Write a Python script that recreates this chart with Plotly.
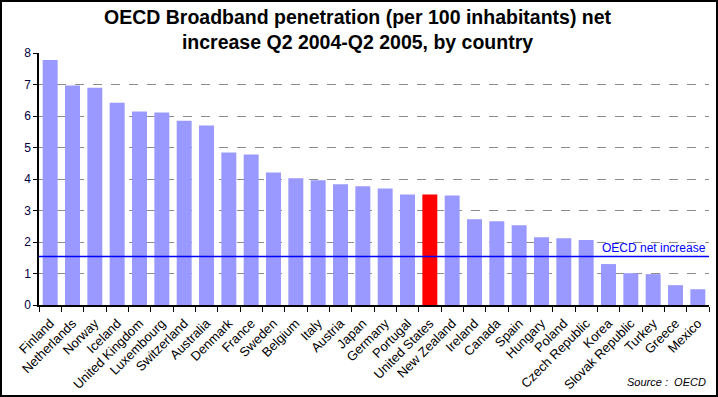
import plotly.graph_objects as go

countries = ["Finland", "Netherlands", "Norway", "Iceland", "United Kingdom", "Luxembourg",
             "Switzerland", "Australia", "Denmark", "France", "Sweden", "Belgium", "Italy",
             "Austria", "Japan", "Germany", "Portugal", "United States", "New Zealand",
             "Ireland", "Canada", "Spain", "Hungary", "Poland", "Czech Republic", "Korea",
             "Slovak Republic", "Turkey", "Greece", "Mexico"]
values = [7.78, 6.97, 6.90, 6.42, 6.14, 6.11, 5.85, 5.70, 4.84, 4.78, 4.21, 4.02, 3.96,
          3.83, 3.77, 3.70, 3.51, 3.51, 3.48, 2.72, 2.66, 2.53, 2.15, 2.12, 2.06, 1.30,
          1.01, 0.98, 0.63, 0.50]
highlight = "United States"
oecd_avg = 1.54
y_ticks = [0, 1, 2, 3, 4, 5, 6, 7, 8]

colors = ["#FF0000" if c == highlight else "#9999FF" for c in countries]

W, H = 718, 397
ml, mr, mt, mb = 39, 9, 53, 92
pw, ph = W - ml - mr, H - mt - mb

fig = go.Figure(go.Bar(x=countries, y=values, marker=dict(color=colors, line=dict(width=0)),
                       showlegend=False))

fig.update_layout(
    width=W, height=H,
    margin=dict(l=ml, r=mr, t=mt, b=mb),
    paper_bgcolor="white", plot_bgcolor="white",
    font=dict(family="Arial, Liberation Sans", size=12, color="black"),
    bargap=0.33,
)
fig.add_annotation(
    text="<b>OECD Broadband penetration (per 100 inhabitants) net<br>increase Q2 2004-Q2 2005, by country</b>",
    xref="paper", yref="paper", x=(358 - ml) / pw, y=1, xanchor="center", yanchor="bottom",
    yshift=-2, showarrow=False, align="center",
    font=dict(size=19.5, family="Arial, Liberation Sans", color="black"))

fig.update_xaxes(
    tickangle=-45, showline=True, linecolor="black", linewidth=1.5,
    ticks="outside", tickson="boundaries", ticklen=5, tickcolor="black",
    tickfont=dict(size=13), showgrid=False, mirror=False, ticklabelstandoff=4,
    automargin=False,
)
fig.update_yaxes(
    range=[0, 8], tickvals=y_ticks, showline=True, linecolor="black", linewidth=1.5,
    ticks="outside", ticklen=4, tickcolor="black",
    showgrid=True, gridcolor="#8C8C8C", griddash="dash", gridwidth=1,
    tickfont=dict(size=12, color="#000040"), zeroline=False, automargin=False,
)

fig.add_shape(type="line", xref="paper", yref="y", x0=0, x1=1, y0=oecd_avg, y1=oecd_avg,
              line=dict(color="#0000FF", width=1.5))
fig.add_annotation(text="OECD net increase", xref="paper", yref="y", x=0.998, y=oecd_avg,
                   xanchor="right", yanchor="bottom", showarrow=False, yshift=-1,
                   font=dict(size=12, color="#0000FF"))
fig.add_annotation(text="<i>Source :  OECD</i>", xref="paper", yref="paper",
                   x=(W - 10 - ml) / pw, y=-(H - 7 - (H - mb)) / ph, xanchor="right", yanchor="bottom",
                   showarrow=False, font=dict(size=11, color="black"))
fig.add_shape(type="rect", xref="paper", yref="paper",
              x0=-(ml - 1) / pw, x1=1 + (mr - 1) / pw, y0=-(mb - 1) / ph, y1=1 + (mt - 1) / ph,
              line=dict(color="black", width=2), layer="above")

fig.write_html("out.html", config={"displayModeBar": False},
               post_script="document.body.style.margin='0';document.body.style.overflow='hidden';")
